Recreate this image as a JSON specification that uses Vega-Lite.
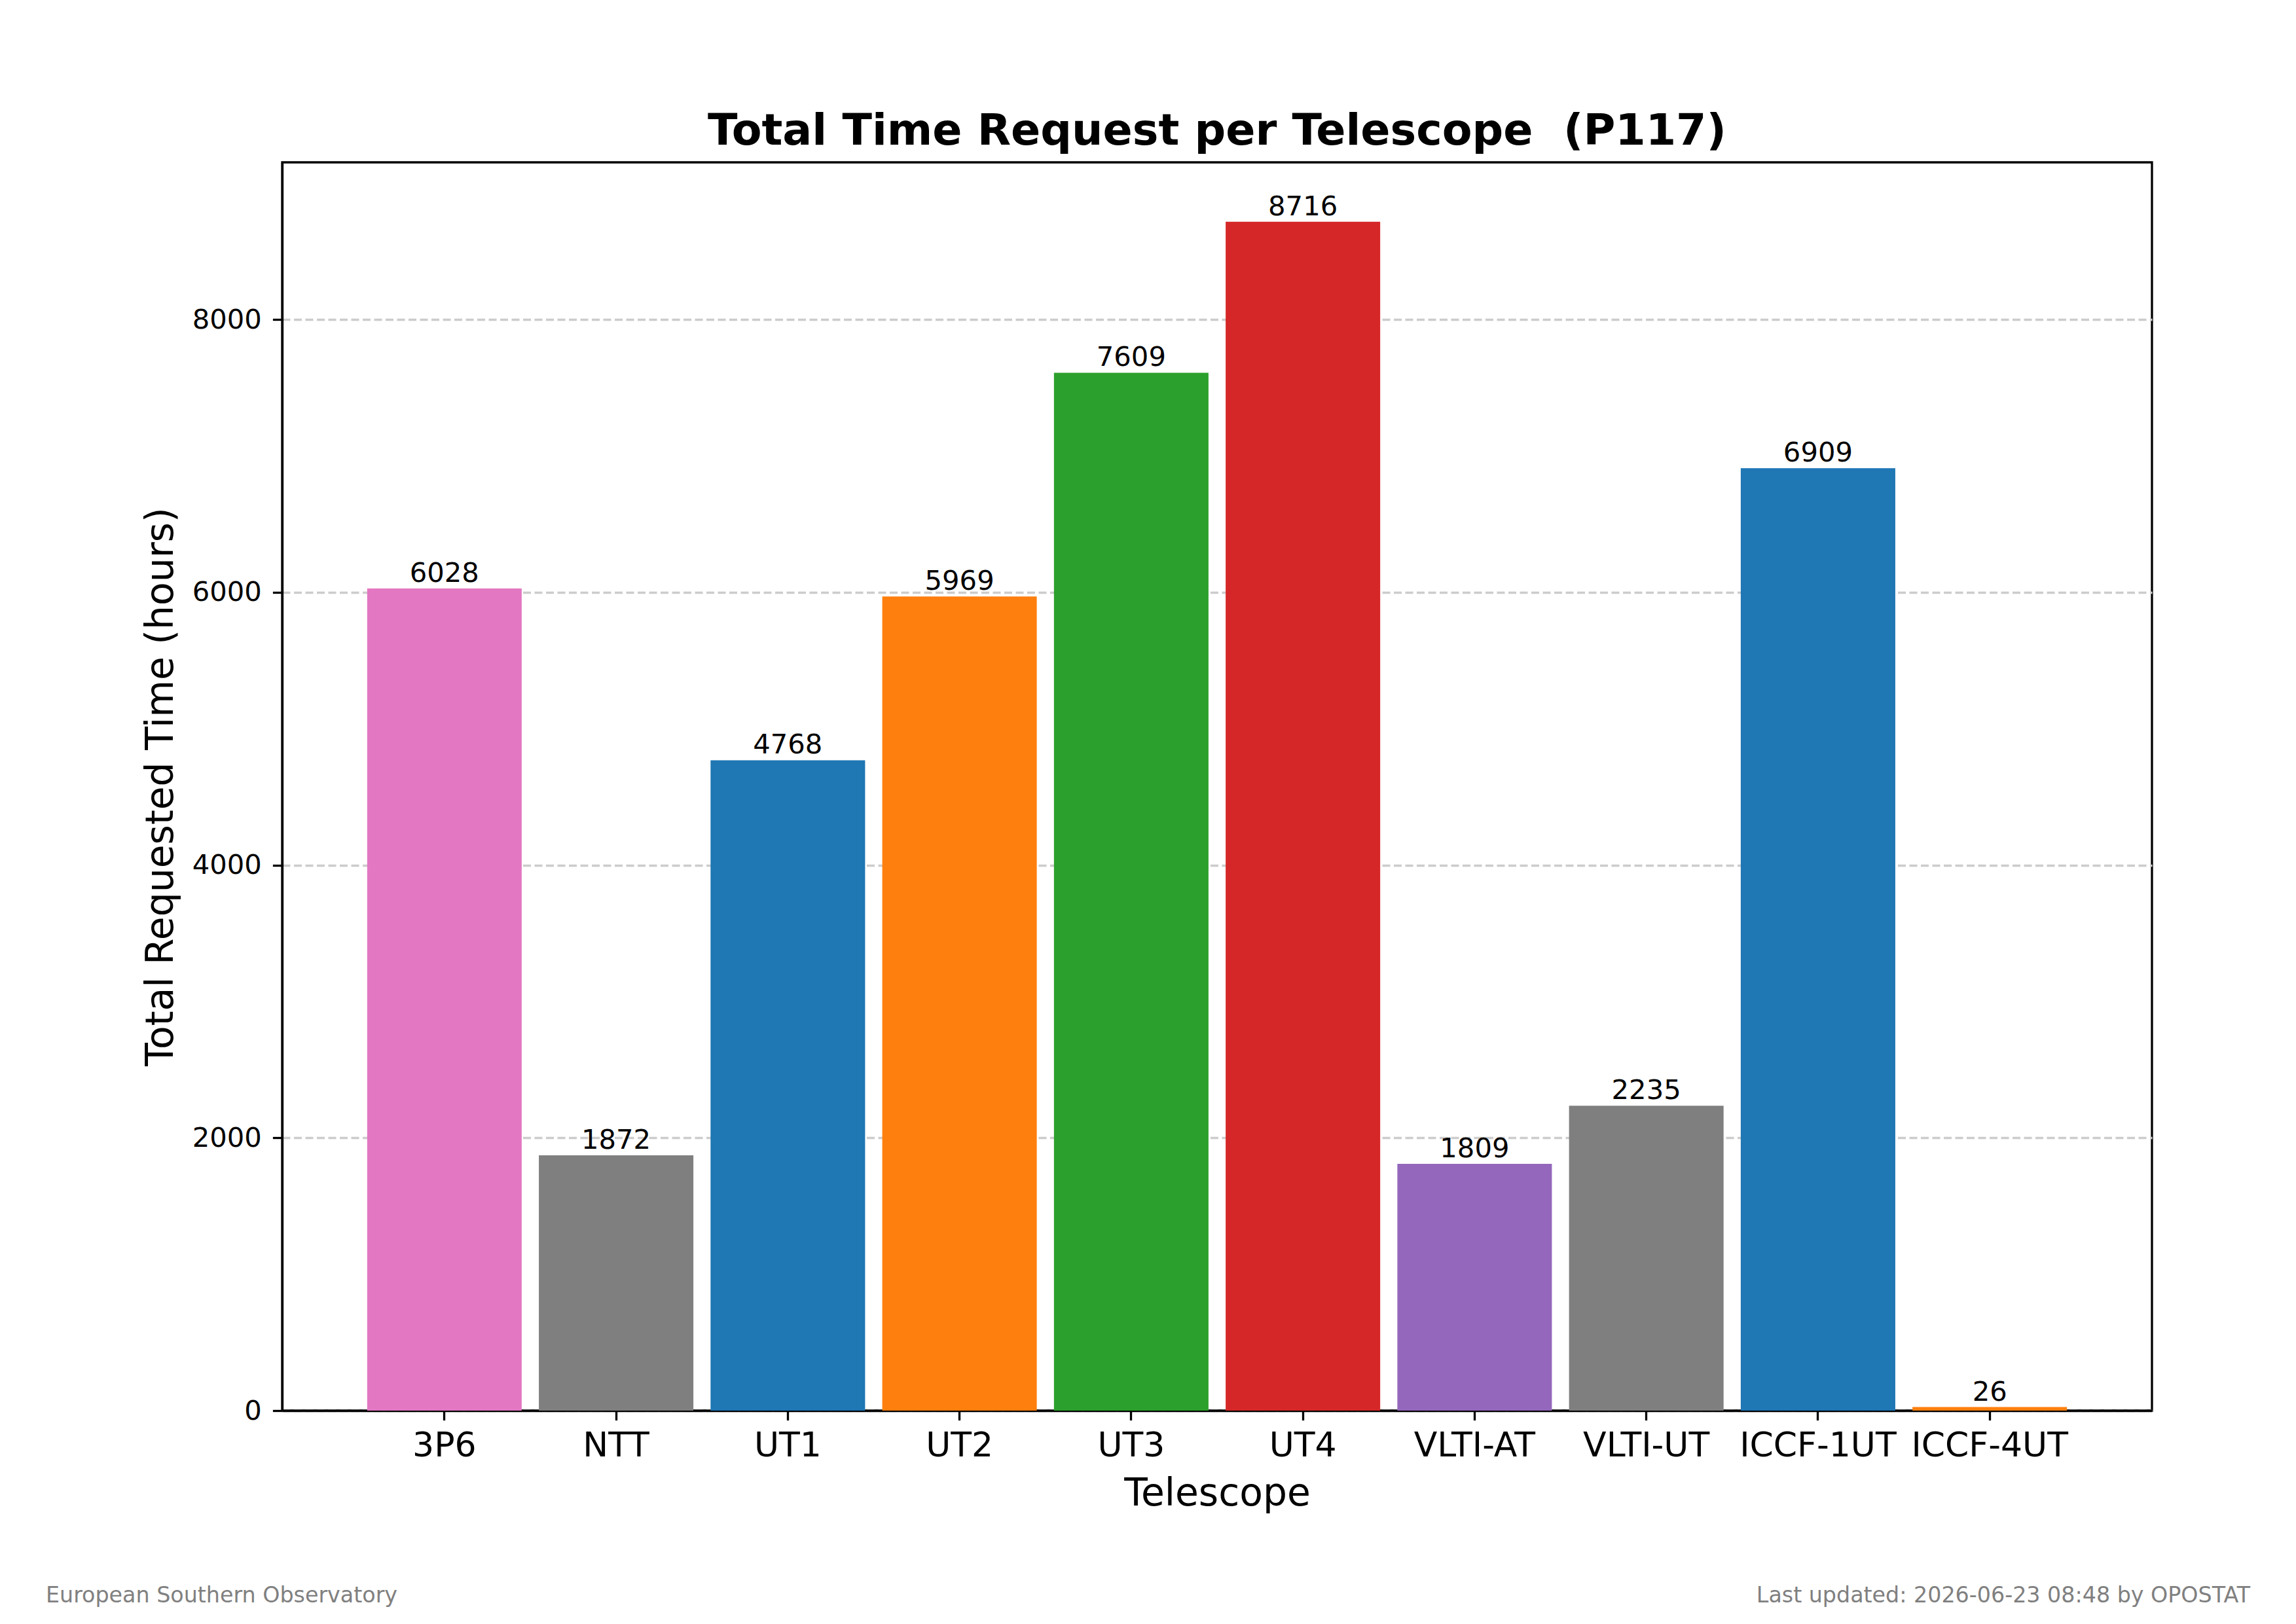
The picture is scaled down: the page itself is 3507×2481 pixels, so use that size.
{
  "$schema": "https://vega.github.io/schema/vega-lite/v6.json",
  "background": "white",
  "autosize": {"type": "none"},
  "padding": {"left": 431, "top": 248, "right": 220, "bottom": 326},
  "width": 2856,
  "height": 1907,
  "title": {
    "text": "Total Time Request per Telescope \u00a0(P117)",
    "fontSize": 66.7,
    "fontWeight": "bold",
    "color": "black",
    "anchor": "middle",
    "frame": "group",
    "baseline": "alphabetic",
    "offset": -40
  },
  "data": {
    "values": [
      {"telescope": "3P6", "hours": 6028},
      {"telescope": "NTT", "hours": 1872},
      {"telescope": "UT1", "hours": 4768},
      {"telescope": "UT2", "hours": 5969},
      {"telescope": "UT3", "hours": 7609},
      {"telescope": "UT4", "hours": 8716},
      {"telescope": "VLTI-AT", "hours": 1809},
      {"telescope": "VLTI-UT", "hours": 2235},
      {"telescope": "ICCF-1UT", "hours": 6909},
      {"telescope": "ICCF-4UT", "hours": 26}
    ]
  },
  "layer": [
    {
      "mark": {"type": "bar"},
      "encoding": {
        "x": {
          "field": "telescope",
          "type": "nominal",
          "sort": null,
          "title": "Telescope",
          "scale": {"paddingInner": 0.1, "paddingOuter": 0.495},
          "axis": {
            "labelAngle": 0,
            "labelFontSize": 52,
            "labelPadding": 14,
            "labelLimit": 0,
            "labelOverlap": false,
            "titleFontSize": 58.3,
            "titlePadding": 19
          }
        },
        "y": {
          "field": "hours",
          "type": "quantitative",
          "title": "Total Requested Time (hours)",
          "scale": {"domain": [0, 9151.8], "nice": false},
          "axis": {
            "values": [0, 2000, 4000, 6000, 8000],
            "format": "d",
            "labelFontSize": 41.7,
            "labelPadding": 17,
            "titleFontSize": 58.3,
            "titlePadding": 18,
            "grid": true,
            "gridColor": "#cccccc",
            "gridDash": [12, 5.5],
            "gridWidth": 3.3
          }
        },
        "color": {
          "field": "telescope",
          "type": "nominal",
          "legend": null,
          "scale": {
            "domain": ["3P6", "NTT", "UT1", "UT2", "UT3", "UT4", "VLTI-AT", "VLTI-UT", "ICCF-1UT", "ICCF-4UT"],
            "range": ["#e377c2", "#7f7f7f", "#1f77b4", "#ff7f0e", "#2ca02c", "#d62728", "#9467bd", "#7f7f7f", "#1f77b4", "#ff7f0e"]
          }
        }
      }
    },
    {
      "mark": {"type": "text", "baseline": "alphabetic", "dy": -10, "fontSize": 41.7, "color": "black"},
      "encoding": {
        "x": {"field": "telescope", "type": "nominal", "sort": null},
        "y": {"field": "hours", "type": "quantitative"},
        "text": {"field": "hours", "type": "quantitative", "format": "d"}
      }
    },
    {
      "data": {"values": [{"note": "European Southern Observatory"}]},
      "mark": {"type": "text", "align": "left", "baseline": "alphabetic", "fontSize": 33.3, "color": "#808080"},
      "encoding": {
        "x": {"value": -361},
        "y": {"value": 2200},
        "text": {"field": "note"}
      }
    },
    {
      "data": {"values": [{"note": "Last updated: 2026-06-23 08:48 by OPOSTAT"}]},
      "mark": {"type": "text", "align": "right", "baseline": "alphabetic", "fontSize": 33.3, "color": "#808080"},
      "encoding": {
        "x": {"value": 3006},
        "y": {"value": 2200},
        "text": {"field": "note"}
      }
    }
  ],
  "config": {
    "font": "DejaVu Sans",
    "view": {"stroke": "black", "strokeWidth": 3.3},
    "axis": {
      "domainColor": "black",
      "domainWidth": 3.3,
      "tickColor": "black",
      "tickWidth": 3.3,
      "tickSize": 14.6,
      "labelColor": "black",
      "titleColor": "black",
      "titleFontWeight": "normal",
      "labelFont": "DejaVu Sans",
      "titleFont": "DejaVu Sans"
    },
    "axisX": {"grid": false}
  }
}
